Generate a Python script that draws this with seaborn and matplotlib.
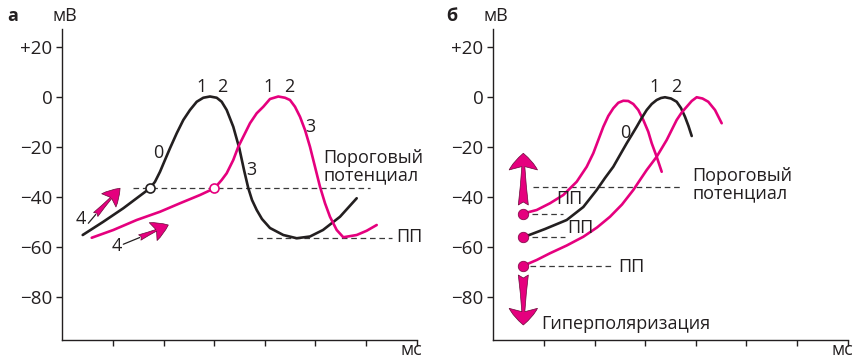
import matplotlib
matplotlib.use("Agg")
import matplotlib.pyplot as plt
import seaborn as sns
import pandas as pd
from matplotlib.patches import FancyArrowPatch, ArrowStyle

sns.set_theme(style="ticks")
plt.rcParams["font.family"] = ["Open Sans", "DejaVu Sans"]
plt.rcParams["axes.unicode_minus"] = True

INK = "#231f20"
MAGENTA = "#e5007e"

# ---- panel а: two action potentials (time in arbitrary units, mV) ----
a_black_t = [0.403, 0.810, 1.205, 1.600, 1.732, 1.831, 1.930, 2.028, 2.127, 2.260,
             2.390, 2.522, 2.655, 2.785, 2.917, 3.050, 3.148, 3.247, 3.377, 3.496,
             3.589, 3.674, 3.747, 3.840, 3.944, 4.102, 4.365, 4.630, 4.892, 5.149,
             5.485, 5.815]
a_black_mv = [-55.2, -49.9, -44.5, -38.5, -36.5, -33.9, -29.9, -25.2, -20.5, -14.5,
              -9.2, -5.2, -1.9, -0.3, 0.2, -0.3, -1.9, -5.2, -11.9, -20.5,
              -29.2, -36.5, -41.2, -45.2, -48.8, -52.4, -55.2, -56.5, -55.8, -53.2,
              -47.9, -40.5]

a_pink_t = [0.581, 1.007, 1.469, 1.930, 2.325, 2.720, 3.006, 3.148, 3.247, 3.377,
            3.476, 3.609, 3.707, 3.840, 3.970, 4.102, 4.266, 4.399, 4.497, 4.596,
            4.695, 4.794, 4.892, 4.991, 5.090, 5.189, 5.287, 5.420, 5.550, 5.815,
            6.012, 6.210]
a_pink_mv = [-56.3, -53.2, -49.2, -45.9, -42.5, -39.2, -36.5, -33.2, -30.5, -25.2,
             -19.9, -14.5, -10.5, -6.5, -3.9, -0.8, 0.2, -0.3, -1.2, -3.9,
             -7.9, -13.2, -19.9, -27.9, -35.9, -42.5, -47.9, -53.2, -56.1, -55.2,
             -53.5, -51.2]

a_threshold = -36.5
a_rest = -56.5

# ---- panel б: shift of resting potential ----
b_black_t = [0.593, 1.021, 1.450, 1.778, 2.042, 2.206, 2.370, 2.502, 2.635, 2.734,
             2.832, 2.931, 3.030, 3.129, 3.227, 3.312, 3.391, 3.510, 3.622, 3.707,
             3.786, 3.855, 3.919]
b_black_mv = [-56.1, -52.8, -49.2, -44.0, -37.2, -32.4, -27.9, -23.2, -18.5, -15.2,
              -11.9, -8.4, -5.2, -2.8, -1.2, -0.4, -0.1, -0.6, -1.9, -4.4,
              -7.9, -11.6, -15.6]

b_pink_hi_t = [0.593, 0.857, 1.120, 1.383, 1.647, 1.845, 1.975, 2.074, 2.173, 2.271,
               2.370, 2.469, 2.568, 2.666, 2.765, 2.864, 2.963, 3.061, 3.129, 3.227,
               3.326]
b_pink_hi_mv = [-46.6, -45.2, -42.5, -39.2, -33.9, -27.9, -22.5, -17.2, -11.9, -7.6,
                -4.5, -2.3, -1.5, -1.6, -2.8, -5.2, -9.2, -13.9, -18.5, -23.9,
                -29.9]

b_pink_lo_t = [0.593, 0.857, 1.120, 1.450, 1.778, 2.048, 2.305, 2.542, 2.765, 2.897,
               3.030, 3.227, 3.425, 3.622, 3.721, 3.820, 3.919, 4.017, 4.132, 4.246,
               4.379, 4.511]
b_pink_lo_mv = [-67.5, -65.2, -62.5, -59.4, -55.9, -52.2, -47.9, -43.0, -37.2, -33.2,
                -29.2, -23.9, -17.2, -9.2, -6.2, -3.9, -1.6, -0.1, -0.6, -1.9,
                -5.2, -10.5]

b_threshold = -35.8
b_rest = [-46.6, -56.1, -67.5]

y_ticks = [20, 0, -20, -40, -60, -80]
y_tick_labels = ["+20", "0", "\u221220", "\u221240", "\u221260", "\u221280"]
x_ticks = [1, 2, 3, 4, 5, 6, 7]

FS = 13
TICK_FS = 13.5
fig = plt.figure(figsize=(8.55, 3.59), dpi=100)
ax_a = fig.add_axes([0.07287, 0.05292, 0.41450, 0.8663])
ax_b = fig.add_axes([0.57696, 0.05292, 0.41450, 0.8663])


def style_axes(ax):
    ax.set_xlim(0, 7)
    ax.set_ylim(-97.2, 27.2)
    ax.set_xticks(x_ticks)
    ax.set_xticklabels([])
    ax.set_yticks(y_ticks)
    ax.set_yticklabels(y_tick_labels)
    for side in ("top", "right"):
        ax.spines[side].set_visible(False)
    for side in ("left", "bottom"):
        ax.spines[side].set_color(INK)
        ax.spines[side].set_linewidth(1.0)
    ax.tick_params(axis="both", direction="out", length=4.5, width=1.0,
                   color=INK, labelcolor=INK, labelsize=TICK_FS, pad=2.5)
    ax.set_xlabel("")
    ax.set_ylabel("")
    ax.text(0.0076, 1.0267, "мВ", transform=ax.transAxes, ha="center",
            va="baseline", fontsize=FS, color=INK)
    ax.text(0.986, -0.0475, "мс", transform=ax.transAxes, ha="center",
            va="baseline", fontsize=FS, color=INK, clip_on=False)


def curve(ax, t, mv, color):
    df = pd.DataFrame({"t": t, "mv": mv})
    sns.lineplot(data=df, x="t", y="mv", ax=ax, color=color, lw=1.9,
                 sort=False, estimator=None, legend=False)


def dashed(ax, x0, x1, y):
    ax.plot([x0, x1], [y, y], color="#3a3a3a", lw=0.9,
            linestyle=(0, (4.5, 3.0)), zorder=1)


def label(ax, x, y, s, ha="center", **kw):
    ax.text(x, y, s, ha=ha, va="center", fontsize=FS, color=INK,
            clip_on=False, **kw)


def block_arrow(ax, start, end, scale, hl, hw, tw):
    style = ArrowStyle.Fancy(head_length=hl, head_width=hw, tail_width=tw)
    ax.add_patch(FancyArrowPatch(start, end, arrowstyle=style,
                                 mutation_scale=scale, facecolor=MAGENTA,
                                 edgecolor="#6b0a3a", lw=0.5, zorder=4,
                                 shrinkA=0, shrinkB=0, clip_on=False))


# ----- panel а -----
dashed(ax_a, 1.396, 6.077, a_threshold)
dashed(ax_a, 3.846, 6.512, a_rest)
curve(ax_a, a_black_t, a_black_mv, INK)
curve(ax_a, a_pink_t, a_pink_mv, MAGENTA)
style_axes(ax_a)
ax_a.plot([a_black_t[4]], [a_black_mv[4]], "o", ms=6.5, mfc="white",
          mec=INK, mew=1.2, zorder=5)
ax_a.plot([a_pink_t[6]], [a_pink_mv[6]], "o", ms=6.5, mfc="white",
          mec=MAGENTA, mew=1.2, zorder=5)

label(ax_a, 1.896, -22.5, "0")
label(ax_a, 2.753, 4.1, "1")
label(ax_a, 3.168, 4.1, "2")
label(ax_a, 4.069, 4.1, "1")
label(ax_a, 4.483, 4.1, "2")
label(ax_a, 3.741, -29.2, "3")
label(ax_a, 4.906, -11.9, "3")
label(ax_a, 5.159, -27.9, "Пороговый\nпотенциал", ha="left", linespacing=1.0)
label(ax_a, 6.605, -55.9, "ПП", ha="left")
label(ax_a, 0.369, -48.8, "4")
label(ax_a, 1.071, -59.4, "4")

ax_a.plot([0.514, 0.660], [-50.5, -47.0], color=INK, lw=0.9)
block_arrow(ax_a, (0.660, -47.0), (1.141, -36.5), 14, 0.85, 1.0, 0.3)
ax_a.plot([1.205, 1.530], [-58.9, -56.2], color=INK, lw=0.9)
block_arrow(ax_a, (1.530, -56.2), (2.094, -51.2), 14, 0.85, 1.0, 0.3)

# ----- panel б -----
dashed(ax_b, 0.790, 3.721, b_threshold)
dashed(ax_b, 0.758, 1.383, b_rest[0])
dashed(ax_b, 0.758, 1.416, b_rest[1])
dashed(ax_b, 0.725, 2.370, b_rest[2])
curve(ax_b, b_pink_hi_t, b_pink_hi_mv, MAGENTA)
curve(ax_b, b_black_t, b_black_mv, INK)
curve(ax_b, b_pink_lo_t, b_pink_lo_mv, MAGENTA)
style_axes(ax_b)
for v in b_rest:
    ax_b.plot([0.593], [v], "o", ms=7.5, mfc=MAGENTA, mec="#8a0a4c",
              mew=0.6, zorder=5)

label(ax_b, 2.601, -14.3, "0")
label(ax_b, 3.194, 3.9, "1")
label(ax_b, 3.609, 3.9, "2")
label(ax_b, 3.930, -35.1, "Пороговый\nпотенциал", ha="left", linespacing=1.0)
label(ax_b, 1.252, -40.8, "ПП", ha="left")
label(ax_b, 1.466, -52.5, "ПП", ha="left")
label(ax_b, 2.469, -67.9, "ПП", ha="left")
label(ax_b, 0.956, -90.8, "Гиперполяризация", ha="left")

block_arrow(ax_b, (0.593, -43.2), (0.593, -22.5), 24, 0.5, 0.85, 0.3)
block_arrow(ax_b, (0.593, -71.2), (0.593, -91.2), 24, 0.5, 0.85, 0.3)

fig.text(0.0144, 0.9423, "а", ha="center", va="baseline", fontsize=FS,
         fontweight="bold", color=INK)
fig.text(0.5283, 0.9423, "б", ha="center", va="baseline", fontsize=FS,
         fontweight="bold", color=INK)

fig.savefig("out.png", dpi=100)
